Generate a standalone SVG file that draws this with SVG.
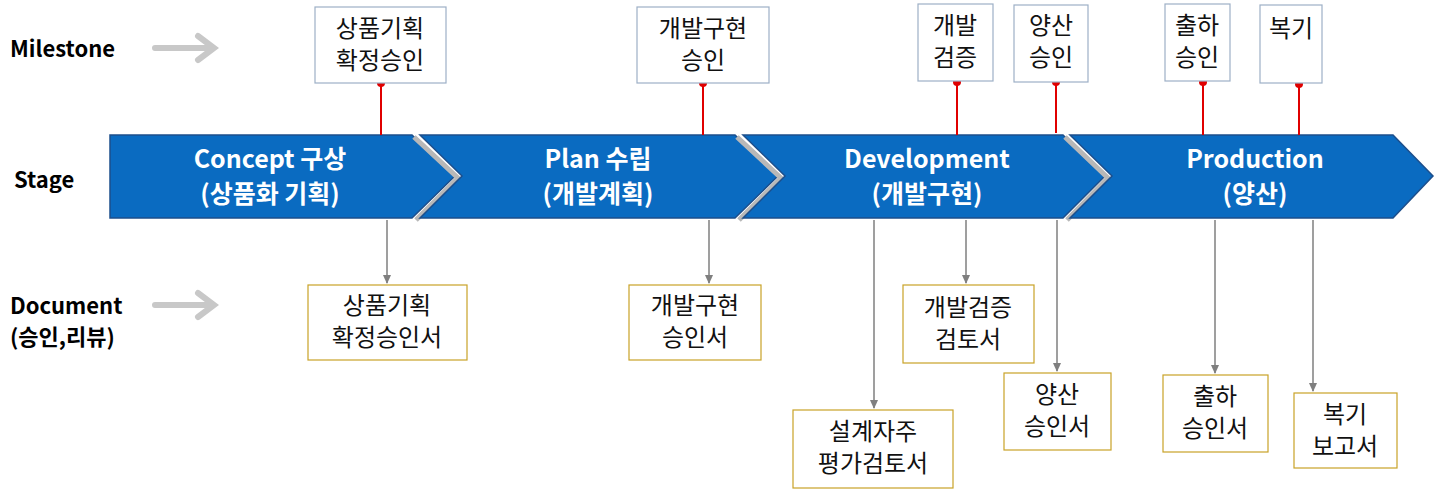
<svg xmlns="http://www.w3.org/2000/svg" width="1442" height="498" viewBox="0 0 1442 498">
<style>
text{font-family:"Noto Sans CJK KR","Noto Sans",sans-serif}
.lbl{font-size:22px;font-weight:bold;fill:#000}
.st{fill:#0a6bc1;stroke:#1d4f8c;stroke-width:1.5}
.sh{fill:none;stroke:#b8b8b8;stroke-width:5}
.stt{font-size:25px;font-weight:bold;fill:#fff;text-anchor:middle}
.ms{fill:#fff;stroke:#9db0c6;stroke-width:1.2}
.doc{fill:#fff;stroke:#c9a227;stroke-width:1.2}
.bt{font-size:24px;fill:#111;text-anchor:middle}
.red{stroke:#e00000;stroke-width:2}
.gl{stroke:#7f7f7f;stroke-width:1.5}
.ga{stroke:#c8c8c8;stroke-width:6;fill:none;stroke-linecap:round}
</style>
<defs>
<marker id="ah" markerWidth="10" markerHeight="10" refX="8" refY="5" orient="auto" markerUnits="userSpaceOnUse"><path d="M0,1 L9,5 L0,9 z" fill="#7f7f7f"/></marker>
</defs>
<g id="labels">
<text class="lbl" x="10" y="57">Milestone</text>
<text class="lbl" x="14" y="188">Stage</text>
<text class="lbl" x="10" y="314">Document</text>
<text class="lbl" x="10" y="345">(승인,리뷰)</text>
<path class="ga" d="M155,48 H212 M198,36 L214,48 L198,60"/>
<path class="ga" d="M155,305 H212 M198,293 L214,305 L198,317"/>
</g>
<g id="stages">
<g id="stage1"><path class="st" d="M110,135 H412 L455,176 L412,218 H110 Z"/><path class="sh" d="M414,137 L458,178 L416,220"/><text class="stt" x="270" y="168">Concept 구상</text><text class="stt" x="270" y="203">(상품화 기획)</text></g>
<g id="stage2"><path class="st" d="M420,135 H735 L778,176 L735,218 H420 L462,176 Z"/><path class="sh" d="M737,137 L781,178 L739,220"/><text class="stt" x="598" y="168">Plan 수립</text><text class="stt" x="598" y="203">(개발계획)</text></g>
<g id="stage3"><path class="st" d="M743,135 H1063 L1105,176 L1063,218 H743 L785,176 Z"/><path class="sh" d="M1065,137 L1108,178 L1067,220"/><text class="stt" x="927" y="168">Development</text><text class="stt" x="927" y="203">(개발구현)</text></g>
<g id="stage4"><path class="st" d="M1070,135 H1393 L1433,176 L1393,218 H1070 L1112,176 Z"/><text class="stt" x="1255" y="168">Production</text><text class="stt" x="1255" y="203">(양산)</text></g>
</g>
<g id="connectors">
<line class="red" x1="381" y1="83" x2="381" y2="135"/><circle cx="381" cy="83" r="4" fill="#e00000"/>
<line class="red" x1="703" y1="83" x2="703" y2="135"/><circle cx="703" cy="83" r="4" fill="#e00000"/>
<line class="red" x1="957" y1="82" x2="957" y2="135"/><circle cx="957" cy="82" r="4" fill="#e00000"/>
<line class="red" x1="1056" y1="82" x2="1056" y2="133"/><circle cx="1056" cy="82" r="4" fill="#e00000"/>
<line class="red" x1="1203" y1="82" x2="1203" y2="135"/><circle cx="1203" cy="82" r="4" fill="#e00000"/>
<line class="red" x1="1299" y1="84" x2="1299" y2="135"/><circle cx="1299" cy="84" r="4" fill="#e00000"/>
<line class="gl" x1="387" y1="220" x2="387" y2="283" marker-end="url(#ah)"/>
<line class="gl" x1="709" y1="220" x2="709" y2="283" marker-end="url(#ah)"/>
<line class="gl" x1="874" y1="220" x2="874" y2="408" marker-end="url(#ah)"/>
<line class="gl" x1="966" y1="220" x2="966" y2="283" marker-end="url(#ah)"/>
<line class="gl" x1="1057" y1="220" x2="1057" y2="371" marker-end="url(#ah)"/>
<line class="gl" x1="1215" y1="220" x2="1215" y2="373" marker-end="url(#ah)"/>
<line class="gl" x1="1313" y1="220" x2="1313" y2="391" marker-end="url(#ah)"/>
</g>
<g id="m1"><rect class="ms" x="315" y="7" width="131" height="76"/><text class="bt" x="380" y="37">상품기획</text><text class="bt" x="380" y="69">확정승인</text></g>
<g id="m2"><rect class="ms" x="637" y="7" width="132" height="76"/><text class="bt" x="703" y="37">개발구현</text><text class="bt" x="703" y="69">승인</text></g>
<g id="m3"><rect class="ms" x="918" y="4" width="75" height="77"/><text class="bt" x="955" y="34">개발</text><text class="bt" x="955" y="66">검증</text></g>
<g id="m4"><rect class="ms" x="1014" y="5" width="74" height="77"/><text class="bt" x="1051" y="34">양산</text><text class="bt" x="1051" y="66">승인</text></g>
<g id="m5"><rect class="ms" x="1165" y="4" width="65" height="77"/><text class="bt" x="1197" y="34">출하</text><text class="bt" x="1197" y="66">승인</text></g>
<g id="m6"><rect class="ms" x="1260" y="5" width="62" height="78"/><text class="bt" x="1291" y="37">복기</text></g>
<g id="d1"><rect class="doc" x="308" y="285" width="159" height="75"/><text class="bt" x="387" y="314">상품기획</text><text class="bt" x="387" y="346">확정승인서</text></g>
<g id="d2"><rect class="doc" x="629" y="285" width="132" height="75"/><text class="bt" x="695" y="314">개발구현</text><text class="bt" x="695" y="346">승인서</text></g>
<g id="d3"><rect class="doc" x="793" y="410" width="160" height="78"/><text class="bt" x="873" y="440">설계자주</text><text class="bt" x="873" y="472">평가검토서</text></g>
<g id="d4"><rect class="doc" x="903" y="285" width="131" height="78"/><text class="bt" x="968" y="316">개발검증</text><text class="bt" x="968" y="348">검토서</text></g>
<g id="d5"><rect class="doc" x="1004" y="373" width="107" height="77"/><text class="bt" x="1057" y="403">양산</text><text class="bt" x="1057" y="435">승인서</text></g>
<g id="d6"><rect class="doc" x="1163" y="375" width="105" height="77"/><text class="bt" x="1215" y="405">출하</text><text class="bt" x="1215" y="437">승인서</text></g>
<g id="d7"><rect class="doc" x="1294" y="393" width="103" height="75"/><text class="bt" x="1345" y="423">복기</text><text class="bt" x="1345" y="455">보고서</text></g>
</svg>
